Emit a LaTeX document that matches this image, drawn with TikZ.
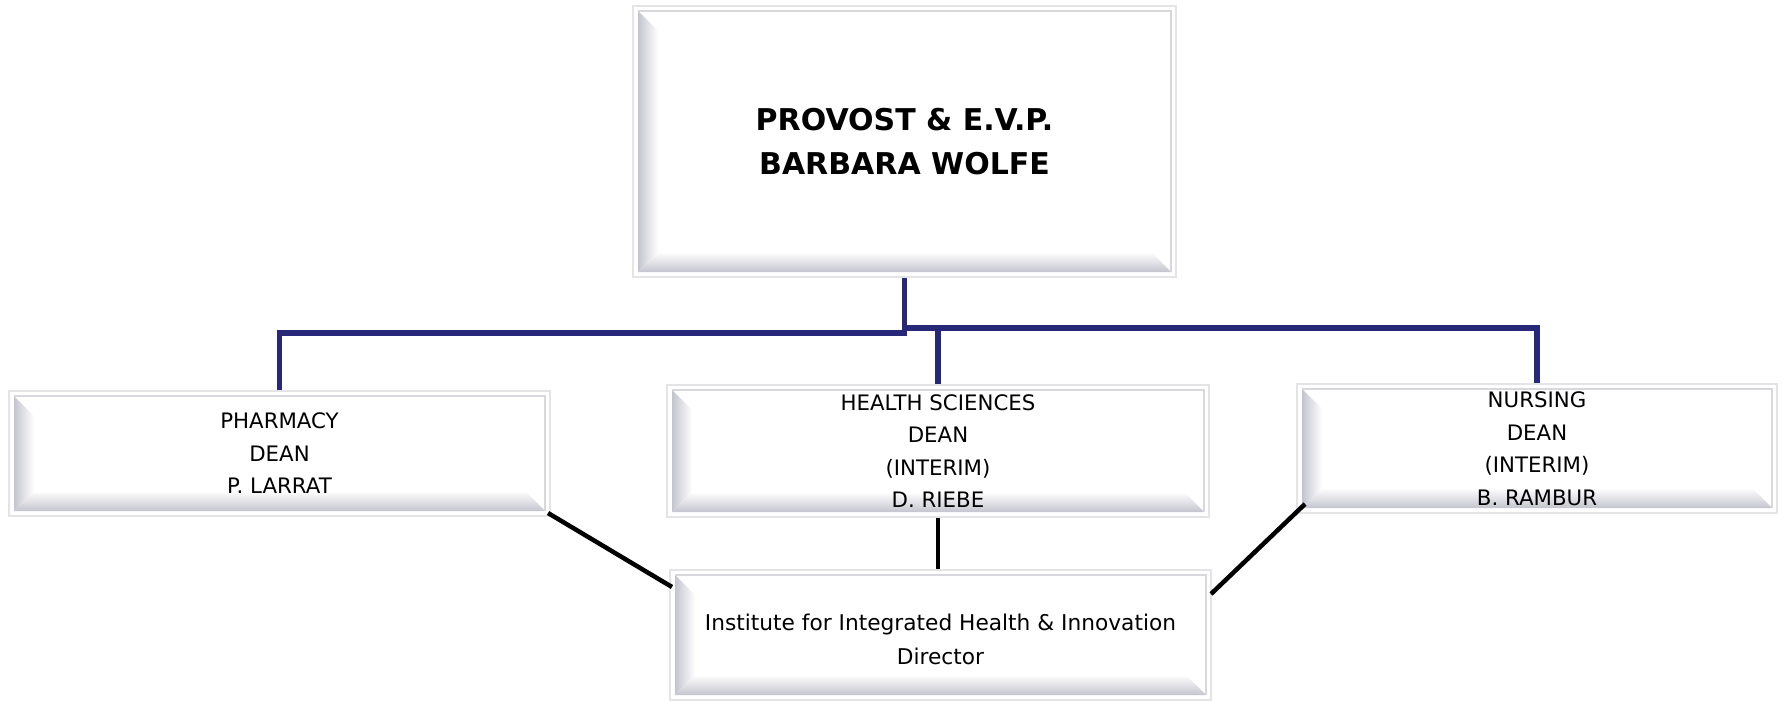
\documentclass[tikz,border=0pt]{standalone}
\usepackage{fontspec}
\setmainfont{DejaVu Sans}
\usetikzlibrary{calc}

\definecolor{linkblue}{RGB}{40,40,122}
\definecolor{framegray}{RGB}{228,228,231}
\definecolor{edgegray}{RGB}{216,216,220}
\definecolor{bevelgray}{RGB}{196,196,208}

\begin{document}
\begin{tikzpicture}[x=1pt, y=-1pt,
    bevelbox/.style={draw=framegray, line width=2pt, fill=white, inner sep=0pt, align=center,
      path picture={
        \path (path picture bounding box.south west) ++(5,-5) coordinate (bvA)
              (path picture bounding box.north east) ++(-5,5) coordinate (bvB);
        \shade[left color=bevelgray, right color=white]
          (bvA) -- (bvA |- bvB) -- ++(20,20) -- ($(bvA)+(20,-20)$) -- cycle;
        \shade[top color=white, bottom color=bevelgray]
          (bvA) -- ($(bvA)+(20,-20)$) -- ($(bvB |- bvA)+(-20,-20)$) -- (bvB |- bvA) -- cycle;
        \draw[edgegray, line width=1.5pt] (bvA |- bvB) -- (bvB) -- (bvB |- bvA);
      }},
    dean/.style={bevelbox, font=\fontsize{21.3}{32.5}\selectfont},
    link/.style={linkblue, line width=5.5pt},
    tie/.style={black, line width=4.5pt}]

			\path[use as bounding box, fill=white] (0,0) rectangle (1783,701);

			\node[bevelbox, minimum width=543pt, minimum height=271pt,
				font=\bfseries\fontsize{30}{44}\selectfont] (provost) at (904.5,141.5) {PROVOST \& E.V.P.\\BARBARA WOLFE};

			\node[dean, minimum width=541pt, minimum height=125pt] (pharmacy) at (279.5,453.5) {PHARMACY\\DEAN\\P. LARRAT};
			\node[dean, minimum width=542pt, minimum height=132pt] (health) at (938,451) {HEALTH SCIENCES\\DEAN\\(INTERIM)\\D. RIEBE};
			\node[dean, minimum width=480pt, minimum height=129pt] (nursing) at (1537,448.5) {NURSING\\DEAN\\(INTERIM)\\B. RAMBUR};
			\node[dean, minimum width=541pt, minimum height=130pt,
				font=\fontsize{21.7}{33.5}\selectfont] (institute) at (940.5,635) {\rule{0pt}{25pt}Institute for Integrated Health \& Innovation\\Director};

			\coordinate (splitL) at (904.5,333);
			\coordinate (splitR) at (904.5,328);
			\draw[link] (provost.south) -- (splitL) -| (pharmacy.north);
			\draw[link] (splitR) -| (nursing.north);
			\draw[link] (health.north |- splitR) -- (health.north);

			\draw[tie] ([shift={(-3,-4)}]pharmacy.south east) -- ([shift={(3,18)}]institute.north west);
			\draw[tie] (health.south) -- (health.south |- institute.north);
			\draw[tie] ([shift={(9,-10)}]nursing.south west) -- ([shift={(-1,25)}]institute.north east);
		\end{tikzpicture}
\end{document}
